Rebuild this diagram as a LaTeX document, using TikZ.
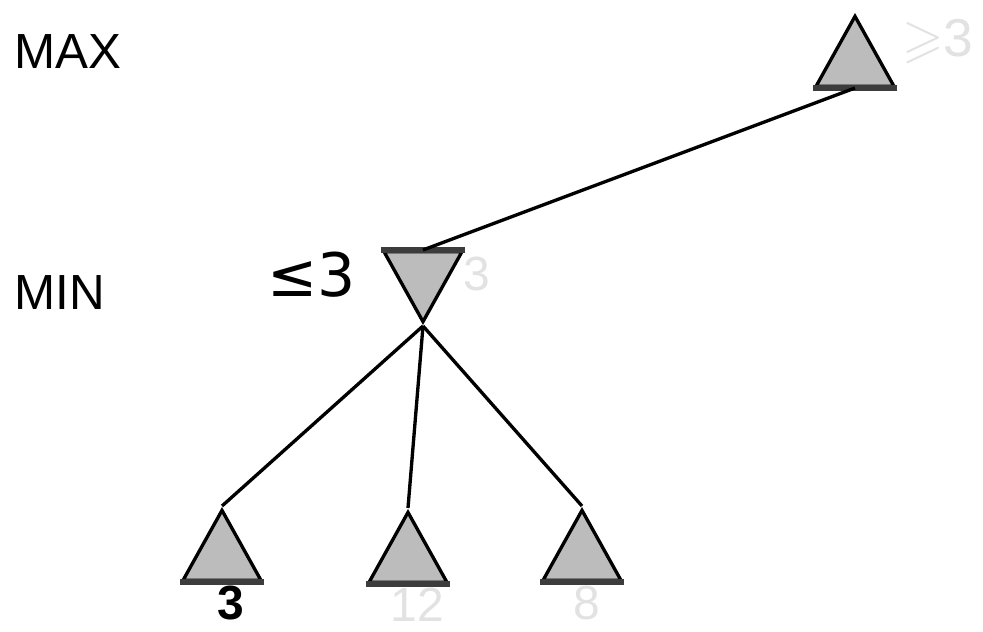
\documentclass[tikz,border=0pt]{standalone}
\usepackage{amssymb}
\usepackage{fontspec}
\setmainfont{Liberation Sans}
\newfontfamily\djvfont{DejaVu Sans}
\usetikzlibrary{shapes.geometric,positioning}
\definecolor{trifill}{HTML}{BCBCBC}
\definecolor{faint}{HTML}{E2E2E2}
\definecolor{basegray}{HTML}{3C3C3C}

\begin{document}
\begin{tikzpicture}[x=0.75pt, y=-0.75pt,
      tri/.style={draw, fill=trifill, line width=2.5pt, isosceles triangle,
                  isosceles triangle stretches, inner sep=0pt,
                  minimum width=58.5pt, minimum height=52.5pt},
      up/.style={tri, shape border rotate=90},
      down/.style={tri, shape border rotate=270},
      lvl/.style={font=\fontsize{37}{40}\selectfont, inner sep=0pt},
      val/.style={font=\fontsize{36}{40}\selectfont, text=faint, inner sep=0pt},
      edge/.style={line width=2.5pt}
  ]
    \useasboundingbox (0,0) rectangle (983,632);
    % level names
    \node[lvl, anchor=west] (lmax) at (14,52) {MAX};
    \node[lvl, anchor=west] (lmin) at (14,293) {MIN};
    % tree nodes
    \node[up, anchor=apex]   (max) at (855,12) {};
    \node[down, anchor=apex] (min) at (423,326) {};
    \node[up, anchor=apex]   (a1) at (222,506) {};
    \node[up, anchor=apex]   (a2) at (408,508) {};
    \node[up, anchor=apex]   (a3) at (582,506) {};
    \foreach \n in {max,min,a1,a2,a3}
      \draw[basegray, line width=3.8pt] (\n.left corner) -- (\n.right corner);
    % edges
    \draw[edge] (max.lower side) -- (min.lower side);
    \draw[edge] (min.apex) -- (a1.apex);
    \draw[edge] (min.apex) -- (a2.apex);
    \draw[edge] (min.apex) -- (a3.apex);
    % values
    \node[val, font=\fontsize{40}{44}\selectfont, anchor=west]
      (vmax) at (902,42) {$\geqslant$3};
    \node[val, anchor=north west] (vmin) at (463,257) {3};
    \node[font=\djvfont\fontsize{45}{50}\selectfont, inner sep=0pt,
          left=29pt of min] (bmin) {≤3};
    \node[val, text=black, font=\bfseries\fontsize{36}{40}\selectfont,
          below=3pt of a1, xshift=7pt] (v1) {3};
    \node[val, below=3pt of a2, xshift=7pt] (v2) {12};
    \node[val, below=3pt of a3, xshift=4pt] (v3) {8};
  \end{tikzpicture}
\end{document}
